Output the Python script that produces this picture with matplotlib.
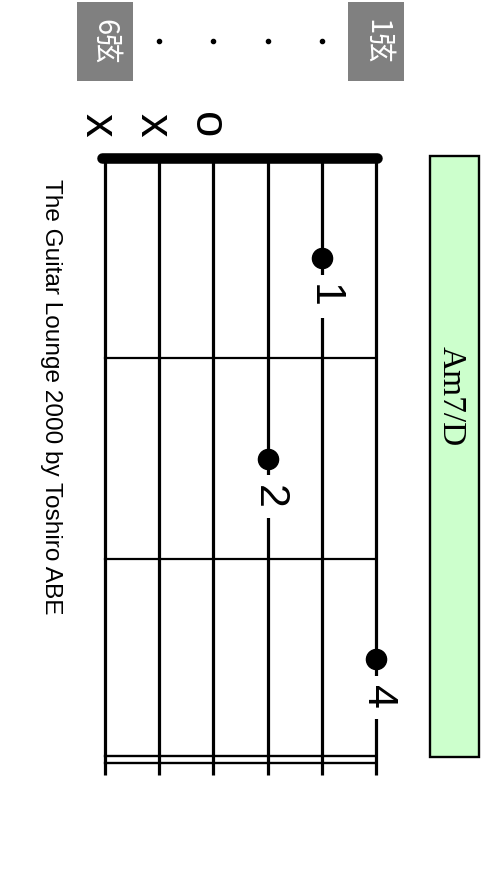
import matplotlib
matplotlib.use('Agg')
import matplotlib.pyplot as plt
from matplotlib.patches import Rectangle

# ---- data -------------------------------------------------------------
strings = [6, 5, 4, 3, 2, 1]            # left (6th) to right (1st)
n_frets_shown = 3
fret_lines = [1, 2]                    # single fret lines
open_strings = [6, 5, 4]
open_symbols = ['x', 'x', 'o']
finger_strings = [2, 3, 1]
finger_frets = [1, 2, 3]
finger_numbers = ['1', '2', '4']
header_strings = [6, 1]
header_labels = ['6弦', '1弦']
header_dot_strings = [5, 4, 3, 2]
chord_name = 'Am7/D'
credit = 'The Guitar Lounge 2000 by Toshiro ABE'

# ---- figure ------------------------------------------------------------
fig = plt.figure(figsize=(4.92, 8.85), dpi=100)
ax = fig.add_axes([0, 0, 1, 1])
ax.set_xlim(7.937, -1.140)
ax.set_ylim(3.626, -0.788)
ax.axis('off')

sans = ['Liberation Sans', 'DejaVu Sans']
cjk = ['Noto Sans CJK JP', 'DejaVu Sans']

s_min, s_max = min(strings), max(strings)
string_end = n_frets_shown + 0.077

# strings
for s in strings:
    ax.plot([s, s], [0, string_end], color='black', lw=2.3,
            solid_capstyle='butt', zorder=1)

# nut
ax.plot([s_max + 0.05, s_min - 0.01], [0, 0], color='black', lw=7.6,
        solid_capstyle='round', zorder=3)

# fret lines
for f in fret_lines:
    ax.plot([s_max, s_min], [f, f], color='black', lw=1.6, zorder=1)
for f in (n_frets_shown - 0.017, n_frets_shown + 0.017):
    ax.plot([s_max, s_min], [f, f], color='black', lw=1.7, zorder=1)

# open / muted marks
for s, sym in zip(open_strings, open_symbols):
    ax.text(s + 0.13, -0.165, sym, rotation=-90, ha='center', va='center',
            fontsize=34, family=sans, color='black')

# finger dots and numbers
ax.plot(finger_strings, [f - 0.5 for f in finger_frets], 'o', color='black',
        markersize=14.5, zorder=4)
for s, f, n in zip(finger_strings, finger_frets, finger_numbers):
    ax.text(s - 0.03, f - 0.5 + 0.19, n, rotation=-90, ha='center',
            va='center', fontsize=31, family=sans, color='black', zorder=3,
            bbox=dict(boxstyle='square,pad=0.22', fc='white', ec='none'))

# header labels
for s, lab in zip(header_strings, header_labels):
    ax.add_patch(Rectangle((s - 0.515, -0.778), 1.03, 0.394,
                           facecolor='#808080', edgecolor='none', zorder=2))
    ax.text(s, -0.58, lab, rotation=-90, ha='center', va='center',
            fontsize=21, family=cjk, color='white', zorder=3)
ax.plot(header_dot_strings, [-0.584] * len(header_dot_strings), 'o',
        color='black', markersize=3)

# chord name box
ax.add_patch(Rectangle((-0.9, -0.01), 0.9, 3.0, facecolor='#ccffcc',
                       edgecolor='black', lw=1.7, zorder=2))
ax.text(-0.39, 1.19, chord_name, rotation=-90, ha='center', va='center',
        fontsize=24, family=['Liberation Serif', 'DejaVu Serif'],
        color='black', zorder=3)

# credit
ax.text(7.0, 1.19, credit, rotation=-90, ha='center', va='center',
        fontsize=17.6, family=sans, color='black')

fig.savefig('out.png', dpi=100)
